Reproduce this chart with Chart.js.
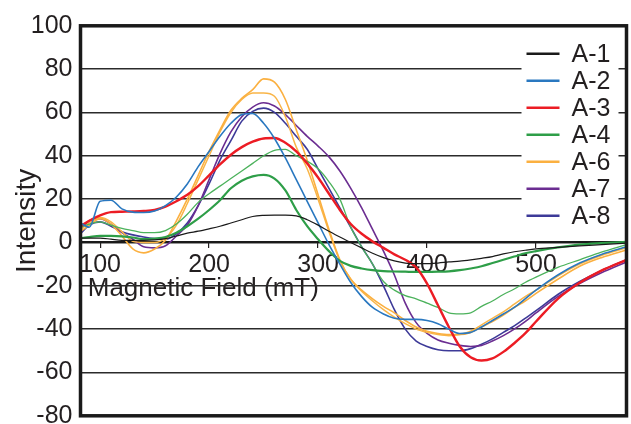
<!DOCTYPE html>
<html>
<head>
<meta charset="utf-8">
<title>EPR spectra</title>
<script src="https://cdn.jsdelivr.net/npm/chart.js@4.4.0/dist/chart.umd.min.js"></script>
<style>
  html, body { margin: 0; padding: 0; background: #fff; }
</style>
</head>
<body>
<canvas id="epr" width="631" height="424"></canvas>
<script>
// field positions (mT) shared by every trace
const fieldMT = [82, 90, 100, 110, 120, 130, 140, 150, 160, 170,
  180, 190, 200, 210, 220, 230, 240, 250, 260, 270,
  280, 290, 300, 310, 320, 330, 340, 350, 360, 370,
  380, 390, 400, 410, 420, 430, 440, 450, 460, 470,
  480, 490, 500, 520, 540, 560, 583];

const fieldTicks = [100, 200, 300, 400, 500];

const a1 = [2, 2, 2, 1.5, 1, 1, 1, 1.2, 1.8, 3,
  4.3, 5.2, 6.3, 7.5, 9, 10.5, 12, 12.5, 12.6, 12.6,
  12.3, 10.5, 8, 5.2, 2.5, 0, -2.5, -5, -7, -8.5,
  -9.5, -9.8, -9.8, -9.5, -9, -8.6, -8, -7.3, -6.5, -5.3,
  -4.3, -3.6, -3, -2.3, -1.6, -1, -0.3];

const a2 = [9, 7, 19, 19.5, 15.5, 14, 13.8, 14.5, 17, 21,
  27, 35, 42, 49, 55, 59, 59.5, 55, 48, 39,
  29, 19, 9, -1, -10, -18.5, -25, -30, -33, -35,
  -35.5, -35.5, -36, -37.5, -40, -42, -41.5, -39, -36, -33,
  -30, -26, -22, -15, -9.5, -5.5, -2];

const a3 = [7.5, 10, 12.5, 14, 14.2, 14.3, 14.5, 15, 16.5, 19,
  22, 26, 31, 36, 40.5, 44, 46.5, 48, 48.2, 46,
  42, 36.5, 30, 22.5, 15, 8.5, 4, 0.5, -2.5, -5.5,
  -8, -11.5, -19, -29, -39, -48, -53, -54.5, -53.5, -50.5,
  -46.5, -42, -36.5, -26, -18.6, -13, -8];

const a4 = [2, 2.5, 3, 3, 2.8, 2.3, 1.5, 1.8, 2.5, 4.5,
  7.5, 11, 15, 19.5, 25, 28.5, 30.5, 31.2, 29.5, 24,
  15, 7.5, 1.5, -4, -8.5, -10.8, -12, -12.8, -13.2, -13.4,
  -13.5, -13.6, -13.6, -13.5, -13.3, -12.8, -12, -11, -9.5, -8,
  -6.5, -5, -4, -2.3, -1, -0.3, 0.3];

const a4Rerun = [7, 8.5, 9.5, 8, 6.5, 5.5, 4.5, 4.5, 5.5, 8.5,
  13, 18.5, 22.5, 26, 29.5, 33, 36.5, 40, 42.5, 43,
  40, 37.5, 34, 28, 20, 7, -2, -10, -18, -22,
  -24.5, -26, -28, -30, -32.5, -33, -32.5, -29.5, -27, -24,
  -21.5, -18.5, -16, -11.5, -8, -4.5, -1];

const a6 = [5, 8, 11, 8.5, 3, -3, -4.8, -3, 1, 10,
  20, 31, 42, 52, 61, 66.5, 70.5, 75.5, 74, 66,
  52, 38, 22, 6, -8, -17, -22, -26, -29.5, -32.5,
  -36, -39, -41, -42, -42.5, -42.5, -41.5, -39, -36.5, -33.5,
  -30, -27, -23.5, -17, -11, -7, -3.5];

const a6Rerun = [6, 9, 11.5, 9.5, 5, 0.5, 0, 0, 2, 8,
  18, 29, 40, 51, 60, 66, 69, 69, 67.5, 58,
  44, 34, 20, 5, -8.5, -17, -22.5, -27, -31, -34.5,
  -37.5, -40, -41.5, -42.5, -43, -42.5, -41, -38, -35, -32,
  -28.5, -25, -22, -15.5, -10, -6, -2.5];

const a7 = [6, 10, 11, 8.5, 4.5, 1.5, -2, -2.5, -1.5, 3,
  8, 17, 29, 41, 51, 58, 62.5, 64.5, 63, 59,
  54, 49, 44.5, 39.5, 33, 25, 16, 6, -4, -15,
  -28, -37, -42, -45, -46.5, -47.5, -48, -47.5, -45.5, -43,
  -40, -36.5, -32.5, -25, -19, -14, -9];

const a8 = [4, 8, 9.5, 7.5, 5, 3.5, 2.5, 1.8, 1.5, 4,
  9, 17, 27, 38, 47, 56, 60.5, 62, 60, 55,
  49, 43, 34, 25, 16, 7, -2, -10, -20, -31,
  -40, -45.5, -48, -49.5, -50, -50, -49, -47, -44.5, -41.5,
  -38.5, -35, -31.5, -24, -18, -13, -8];

const FONT = '"Liberation Sans", Arial, Helvetica, sans-serif';
const INK = '#231f20';

const trace = (label, values, color, width) => ({
  label,
  data: fieldMT.map((x, i) => ({ x, y: values[i] })),
  borderColor: color,
  borderWidth: width,
  pointRadius: 0,
  fill: false,
  cubicInterpolationMode: 'monotone'
});

// box around the plotting area
const framePlugin = {
  id: 'frame',
  afterDraw(chart) {
    const { ctx, chartArea: a } = chart;
    ctx.save();
    ctx.strokeStyle = '#1a1a1a';
    ctx.lineWidth = 3.5;
    ctx.strokeRect(a.left, a.top, a.right - a.left, a.bottom - a.top);
    ctx.restore();
  }
};

// sample key in the upper right corner, one entry per sample name
const keyPlugin = {
  id: 'sampleKey',
  afterDraw(chart) {
    const { ctx, chartArea: a } = chart;
    const seen = new Set();
    const items = chart.data.datasets.filter(d => {
      if (seen.has(d.label)) return false;
      seen.add(d.label);
      return true;
    });
    const left = a.right - 105;
    ctx.save();
    ctx.fillStyle = '#fff';
    ctx.fillRect(left, a.top + 12, 97, 194);
    ctx.font = '25px ' + FONT;
    ctx.textBaseline = 'middle';
    items.forEach((d, i) => {
      const y = a.top + 28 + i * 27;
      ctx.strokeStyle = d.borderColor;
      ctx.lineWidth = 2.5;
      ctx.beginPath();
      ctx.moveTo(left + 5, y);
      ctx.lineTo(left + 38, y);
      ctx.stroke();
      ctx.fillStyle = INK;
      ctx.fillText(d.label, left + 50, y + 1);
    });
    ctx.restore();
  }
};

new Chart(document.getElementById('epr'), {
  type: 'line',
  data: {
    datasets: [
      trace('A-1', a1, '#1a1a1a', 1.2),
      trace('A-2', a2, '#2a78c0', 1.6),
      trace('A-3', a3, '#ec1c24', 2.4),
      trace('A-4', a4, '#2e9e48', 2.2),
      trace('A-4', a4Rerun, '#4cb25c', 1.3),
      trace('A-6', a6, '#fbb040', 1.6),
      trace('A-6', a6Rerun, '#f9b548', 1.5),
      trace('A-7', a7, '#6b2d91', 1.6),
      trace('A-8', a8, '#3d3a98', 1.6)
    ]
  },
  options: {
    responsive: false,
    animation: false,
    layout: { padding: { top: 25.8, right: 4.5, bottom: 8.2, left: 0 } },
    plugins: {
      legend: { display: false },
      tooltip: { enabled: false }
    },
    scales: {
      x: {
        type: 'linear',
        min: 82,
        max: 583,
        position: { y: 0 },
        afterBuildTicks(scale) {
          scale.ticks = fieldTicks.map(value => ({ value }));
        },
        grid: { drawOnChartArea: false, drawTicks: true, tickLength: 5, color: INK, lineWidth: 1.2 },
        border: { display: true, color: '#1a1a1a', width: 2 },
        ticks: {
          padding: 5.5,
          color: INK,
          font: { family: FONT, size: 25, lineHeight: 1 }
        },
        title: {
          display: true,
          text: ' Magnetic Field (mT)',
          align: 'start',
          color: INK,
          font: { family: FONT, size: 26, lineHeight: 1 },
          padding: { top: -7.5, bottom: 0 }
        }
      },
      y: {
        min: -80,
        max: 100,
        ticks: {
          stepSize: 20,
          padding: 8,
          color: INK,
          font: { family: FONT, size: 25 }
        },
        grid: { color: '#2b2b2b', lineWidth: 1.4, drawTicks: false },
        border: { display: false },
        title: {
          display: true,
          text: 'Intensity',
          color: INK,
          font: { family: FONT, size: 28, lineHeight: 1 },
          padding: { top: 13.5, bottom: 0 }
        },
        afterFit(scale) {
          scale.width = 80.5;
          scale.paddingTop = 0;
          scale.paddingBottom = 0;
        }
      }
    }
  },
  plugins: [framePlugin, keyPlugin]
});
</script>
</body>
</html>
